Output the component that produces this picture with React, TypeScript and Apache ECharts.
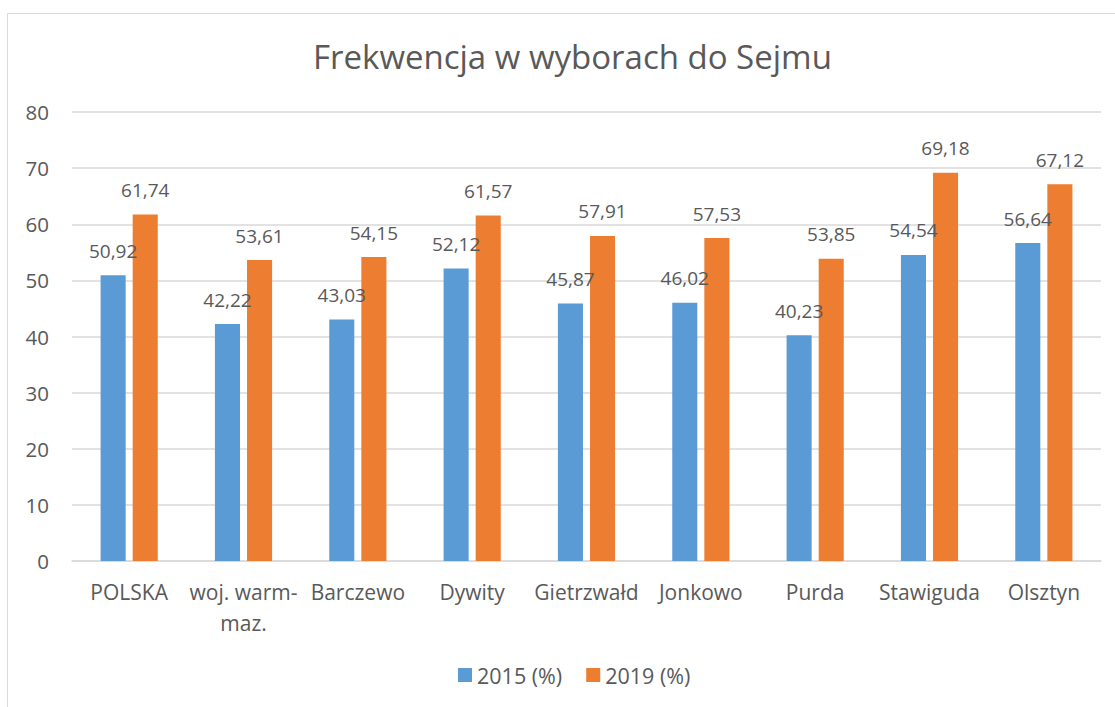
import React, { useEffect, useRef } from "react";
import * as echarts from "echarts";

const categories = ["POLSKA", "woj. warm-\nmaz.", "Barczewo", "Dywity", "Gietrzwałd", "Jonkowo", "Purda", "Stawiguda", "Olsztyn"];
const values2015 = [50.92, 42.22, 43.03, 52.12, 45.87, 46.02, 40.23, 54.54, 56.64];
const values2019 = [61.74, 53.61, 54.15, 61.57, 57.91, 57.53, 53.85, 69.18, 67.12];
const yTicks = [0, 10, 20, 30, 40, 50, 60, 70, 80];
const seriesNames = ["2015 (%)", "2019 (%)"];
const titleText = "Frekwencja w wyborach do Sejmu";

const FONT = "Open Sans";
const TXT = "#595959";

export default function App() {
  const ref = useRef<HTMLDivElement>(null);
  useEffect(() => {
    document.body.style.margin = "0";
    const chart = echarts.init(ref.current!, null, { renderer: "svg" });
    const fmt = (p: any) => Number(p.value).toFixed(2).replace(".", ",");
    chart.setOption({
      animation: false,
      backgroundColor: "#ffffff",
      textStyle: { fontFamily: FONT },
      title: {
        text: titleText,
        left: 308,
        top: 35,
        textStyle: { fontFamily: FONT, fontSize: 33, fontWeight: "normal", color: TXT },
      },
      graphic: [
        {
          type: "rect",
          shape: { x: 7.5, y: 13.5, width: 1300, height: 900 },
          style: { fill: "none", stroke: "#D9D9D9", lineWidth: 1 },
          silent: true,
        },
      ],
      legend: {
        data: seriesNames,
        top: 659,
        left: 453,
        itemWidth: 14,
        itemHeight: 14,
        itemGap: 24,
        icon: "rect",
        textStyle: { fontFamily: FONT, fontSize: 21.5, color: TXT },
      },
      grid: { left: 72, right: 14, top: 112, bottom: 146, containLabel: false },
      xAxis: {
        type: "category",
        data: categories,
        axisLine: { lineStyle: { color: "#D9D9D9", width: 1.5 } },
        axisTick: { show: false },
        axisLabel: {
          interval: 0,
          color: TXT,
          fontFamily: FONT,
          fontSize: 21,
          lineHeight: 31,
          margin: 15,
        },
      },
      yAxis: {
        type: "value",
        min: yTicks[0],
        max: yTicks[yTicks.length - 1],
        interval: 10,
        axisLine: { show: false },
        axisTick: { show: false },
        splitLine: { lineStyle: { color: "#D9D9D9", width: 1.5 } },
        axisLabel: { color: TXT, fontFamily: FONT, fontSize: 20.5, margin: 23 },
      },
      series: [
        {
          name: seriesNames[0],
          type: "bar",
          data: values2015,
          barGap: "28%",
          barCategoryGap: "50%",
          itemStyle: { color: "#5B9BD5" },
          label: { show: true, position: "top", distance: 15, color: TXT, fontFamily: FONT, fontSize: 19, formatter: fmt },
        },
        {
          name: seriesNames[1],
          type: "bar",
          data: values2019,
          barGap: "28%",
          barCategoryGap: "50%",
          itemStyle: { color: "#ED7D31" },
          label: { show: true, position: "top", distance: 15, color: TXT, fontFamily: FONT, fontSize: 19, formatter: fmt },
        },
      ],
    });
    return () => chart.dispose();
  }, []);
  return <div ref={ref} style={{ width: 1115, height: 707, position: "absolute", left: 0, top: 0 }} />;
}
